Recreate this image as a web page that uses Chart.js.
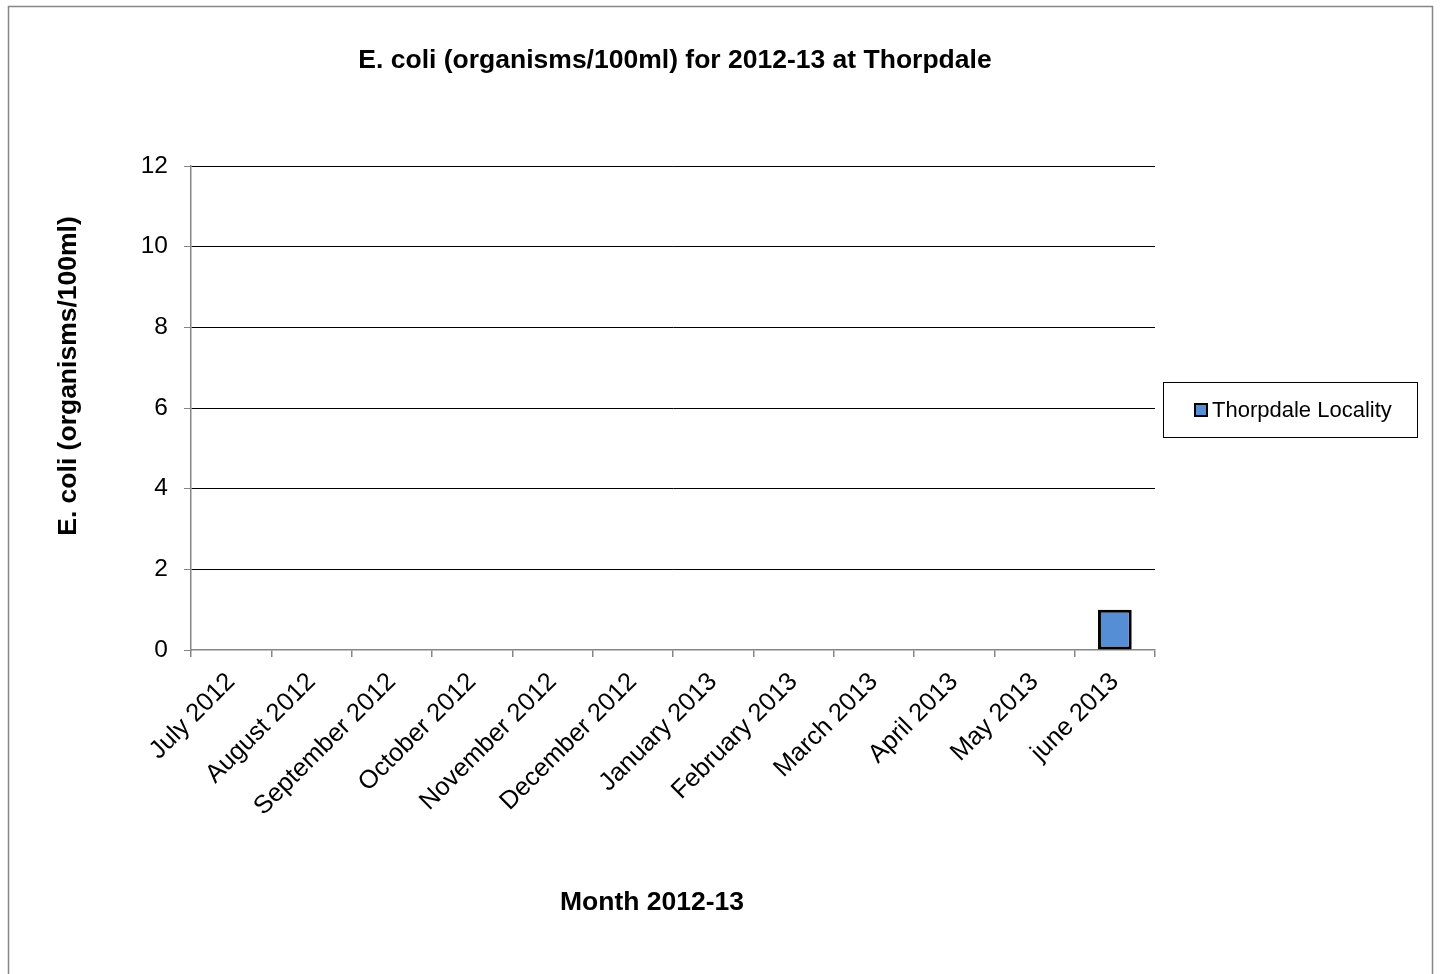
<!DOCTYPE html>
<html>
<head>
<meta charset="utf-8">
<title>E. coli at Thorpdale 2012-13</title>
<script src="https://cdn.jsdelivr.net/npm/chart.js@4.4.1/dist/chart.umd.min.js"></script>
<style>
  html, body { margin: 0; padding: 0; background: #ffffff; }
  canvas { display: block; }
</style>
</head>
<body>
<canvas id="chart" width="1440" height="974"></canvas>
<script>
// Monthly sampling periods for the 2012-13 year
const months = [
  'July 2012', 'August 2012', 'September 2012', 'October 2012',
  'November 2012', 'December 2012', 'January 2013', 'February 2013',
  'March 2013', 'April 2013', 'May 2013', 'june 2013'
];

// E. coli counts (organisms/100ml); months without a result are left empty
const ecoliCounts = [null, null, null, null, null, null, null, null, null, null, null, 1];

// Value axis range
const yMin = 0;
const yMax = 12;
const yStep = 2;

const seriesName = 'Thorpdale Locality';
const chartTitle = 'E. coli (organisms/100ml) for 2012-13 at Thorpdale';
const xAxisTitle = 'Month 2012-13';
const yAxisTitle = 'E. coli (organisms/100ml)';

const FONT = '"Liberation Sans", Arial, sans-serif';
const BAR_FILL = '#558ed5';
const AXIS_GREY = '#868686';

// Chart frame, titles and legend box
const decorations = {
  id: 'decorations',
  afterDraw(chart) {
    const ctx = chart.ctx;
    const area = chart.chartArea;
    ctx.save();

    // outer frame (bottom edge runs past the canvas)
    ctx.strokeStyle = AXIS_GREY;
    ctx.lineWidth = 1.5;
    ctx.strokeRect(8.5, 6.5, 1424, 1000);

    ctx.fillStyle = '#000';
    ctx.textAlign = 'center';
    ctx.textBaseline = 'middle';

    // main title
    ctx.font = 'bold 26.5px ' + FONT;
    ctx.fillText(chartTitle, 675, 61);

    // category axis title
    ctx.fillText(xAxisTitle, 652, 903);

    // value axis title
    ctx.save();
    ctx.translate(69, 376);
    ctx.rotate(-Math.PI / 2);
    ctx.fillText(yAxisTitle, 0, 0);
    ctx.restore();

    // legend
    const ds = chart.data.datasets[0];
    const lx = 1163.5, ly = 382.5, lw = 254, lh = 55;
    ctx.strokeStyle = '#000';
    ctx.lineWidth = 1;
    ctx.strokeRect(lx, ly, lw, lh);
    const cy = (area.top + area.bottom) / 2 + 2;
    ctx.fillStyle = ds.backgroundColor;
    ctx.fillRect(1195, cy - 6, 12, 12);
    ctx.strokeStyle = ds.borderColor;
    ctx.lineWidth = 2;
    ctx.strokeRect(1195, cy - 6, 12, 12);
    ctx.fillStyle = '#000';
    ctx.font = '22px ' + FONT;
    ctx.textAlign = 'left';
    ctx.fillText(ds.label, 1212, cy + 1);

    ctx.restore();
  }
};

new Chart(document.getElementById('chart'), {
  type: 'bar',
  data: {
    labels: months,
    datasets: [{
      label: seriesName,
      data: ecoliCounts,
      backgroundColor: BAR_FILL,
      borderColor: '#000',
      borderWidth: 3,
      borderSkipped: false,
      categoryPercentage: 1,
      barPercentage: 0.42
    }]
  },
  options: {
    responsive: false,
    devicePixelRatio: 1,
    animation: false,
    layout: { padding: { left: 0, top: 166, right: 285, bottom: 0 } },
    plugins: {
      legend: { display: false },
      title: { display: false },
      tooltip: { enabled: false }
    },
    scales: {
      x: {
        offset: true,
        afterFit(scale) { scale.height = 324; },
        grid: {
          offset: true,
          drawOnChartArea: false,
          drawTicks: true,
          tickLength: 7,
          tickColor: AXIS_GREY,
          lineWidth: 1.5
        },
        border: { display: true, color: AXIS_GREY, width: 1.5 },
        ticks: {
          autoSkip: false,
          minRotation: 45,
          maxRotation: 45,
          padding: 10,
          color: '#000',
          font: { family: FONT, size: 25.5 }
        }
      },
      y: {
        min: yMin,
        max: yMax,
        afterFit(scale) { scale.width = 191; },
        grid: {
          color: (c) => (c.tick && c.tick.value === 0 ? 'rgba(0,0,0,0)' : '#000'),
          tickColor: AXIS_GREY,
          tickLength: 7,
          lineWidth: 1
        },
        border: { display: true, color: AXIS_GREY, width: 1.5 },
        ticks: {
          stepSize: yStep,
          padding: 16,
          color: '#000',
          font: { family: FONT, size: 24.5 }
        }
      }
    }
  },
  plugins: [decorations]
});
</script>
</body>
</html>
